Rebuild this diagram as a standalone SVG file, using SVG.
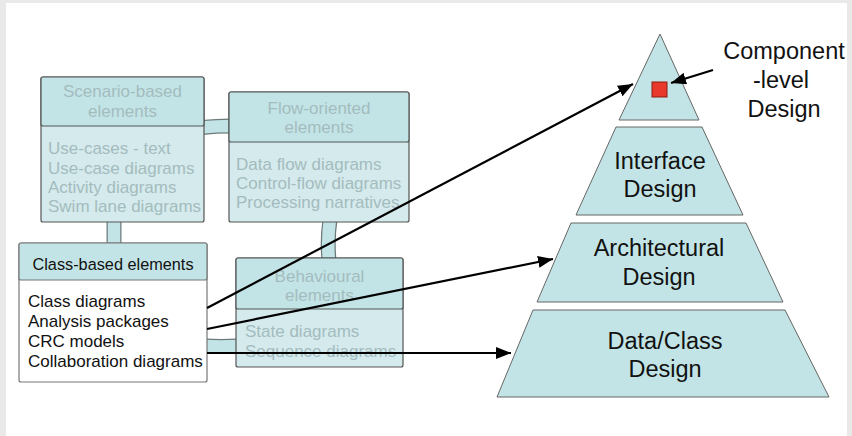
<svg xmlns="http://www.w3.org/2000/svg" width="852" height="436" viewBox="0 0 852 436">
  <style>
    .lbl { font-family: "Liberation Sans", Arial, sans-serif; }
    .hdr { fill: #c3e4e6; stroke: #555; stroke-width: 1.2; }
    .body { fill: #d5eaec; stroke: #555; stroke-width: 1.2; }
    .faded { fill: #a3bcbe; font-size: 17px; }
    .dark { fill: #111; font-size: 17px; }
    .tier { fill: #c3e4e6; stroke: #666; stroke-width: 1; }
    .big { fill: #111; font-size: 23.5px; text-anchor: middle; }
    .pipe-o { fill: none; stroke: #6d7a7b; stroke-width: 15; }
    .pipe-i { fill: none; stroke: #c3e4e6; stroke-width: 12.5; }
    .arrow { fill: none; stroke: #000; stroke-width: 2.2; marker-end: url(#head); }
  </style>
  <defs>
    <marker id="head" markerUnits="userSpaceOnUse" markerWidth="16" markerHeight="12" refX="15" refY="6" orient="auto">
      <path d="M0,0 L15,6 L0,12 Z" fill="#000"/>
    </marker>
  </defs>

  <!-- page -->
  <rect x="0" y="0" width="852" height="436" fill="#e9e9e9"/>
  <rect x="6" y="3" width="841" height="433" fill="#ffffff"/>

  <!-- pipes joining the element boxes -->
  <g id="links">
    <path class="pipe-o" d="M114,220 L114,245"/>
    <path class="pipe-i" d="M114,219 L114,246"/>
    <path class="pipe-o" d="M202,127.5 Q216,126 231,126"/>
    <path class="pipe-i" d="M201,127.5 Q216,126 232,126"/>
    <path class="pipe-o" d="M330,220 Q327,240 329,260"/>
    <path class="pipe-i" d="M330,219 Q327,240 329,261"/>
    <path class="pipe-o" d="M205,346 Q220,347 238,346"/>
    <path class="pipe-i" d="M204,346 Q220,347 239,346"/>
  </g>

  <g id="scenario" class="lbl">
    <rect class="body" x="41" y="77" width="163" height="145" rx="2"/>
    <rect class="hdr" x="41" y="77" width="163" height="49" rx="2"/>
    <text class="faded" x="122.5" y="97" text-anchor="middle">Scenario-based</text>
    <text class="faded" x="122.5" y="117" text-anchor="middle">elements</text>
    <text class="faded" x="48" y="154">Use-cases - text</text>
    <text class="faded" x="48" y="174">Use-case diagrams</text>
    <text class="faded" x="48" y="193">Activity diagrams</text>
    <text class="faded" x="48" y="212">Swim lane diagrams</text>
  </g>

  <g id="flow" class="lbl">
    <rect class="body" x="229" y="92" width="180" height="130" rx="2"/>
    <rect class="hdr" x="229" y="92" width="180" height="50" rx="2"/>
    <text class="faded" x="319" y="114" text-anchor="middle">Flow-oriented</text>
    <text class="faded" x="319" y="133" text-anchor="middle">elements</text>
    <text class="faded" x="236" y="170">Data flow diagrams</text>
    <text class="faded" x="236" y="189">Control-flow diagrams</text>
    <text class="faded" x="236" y="208">Processing narratives</text>
  </g>

  <g id="behavioural" class="lbl">
    <rect class="body" x="236" y="258" width="167" height="109" rx="2"/>
    <rect class="hdr" x="236" y="258" width="167" height="51" rx="2"/>
    <text class="faded" x="319.5" y="282" text-anchor="middle">Behavioural</text>
    <text class="faded" x="319.5" y="301" text-anchor="middle">elements</text>
    <text class="faded" x="245" y="337">State diagrams</text>
    <text class="faded" x="245" y="357">Sequence diagrams</text>
  </g>

  <g id="classbased" class="lbl">
    <rect x="19" y="243" width="188" height="139" rx="2" fill="#ffffff" stroke="#777" stroke-width="1.2"/>
    <rect x="19" y="243" width="188" height="37" rx="2" fill="#c3e4e6" stroke="#777" stroke-width="1.2"/>
    <text class="dark" x="113" y="270" text-anchor="middle" style="font-size:16.3px">Class-based elements</text>
    <text class="dark" x="28" y="307">Class diagrams</text>
    <text class="dark" x="28" y="327">Analysis packages</text>
    <text class="dark" x="28" y="347">CRC models</text>
    <text class="dark" x="28" y="367">Collaboration diagrams</text>
  </g>

  <!-- design pyramid, top to bottom -->
  <g id="component" class="lbl">
    <polygon class="tier" points="660,34 699,120 619,120"/>
    <rect x="652" y="82" width="15" height="15" fill="#e8392c" stroke="#8c1c12" stroke-width="1"/>
  </g>
  <g id="interface" class="lbl">
    <polygon class="tier" points="616,127 702,127 743,215 576,215"/>
    <text class="big" x="660" y="169">Interface</text>
    <text class="big" x="660" y="197">Design</text>
  </g>
  <g id="architectural" class="lbl">
    <polygon class="tier" points="571,223 746,223 783,302 537,302"/>
    <text class="big" x="659" y="256">Architectural</text>
    <text class="big" x="659" y="285">Design</text>
  </g>
  <g id="dataclass" class="lbl">
    <polygon class="tier" points="533,310 785,310 829,397 497,397"/>
    <text class="big" x="665" y="349">Data/Class</text>
    <text class="big" x="665" y="377">Design</text>
  </g>

  <g id="component-label" class="lbl">
    <text class="big" x="784" y="59">Component</text>
    <text class="big" x="781" y="88">-level</text>
    <text class="big" x="784" y="117">Design</text>
  </g>

  <g id="arrows">
    <line class="arrow" x1="207" y1="308" x2="633" y2="84"/>
    <line class="arrow" x1="207" y1="329" x2="553" y2="259"/>
    <line class="arrow" x1="207" y1="353" x2="511" y2="353"/>
    <line class="arrow" x1="713" y1="70" x2="671" y2="83"/>
  </g>
</svg>
